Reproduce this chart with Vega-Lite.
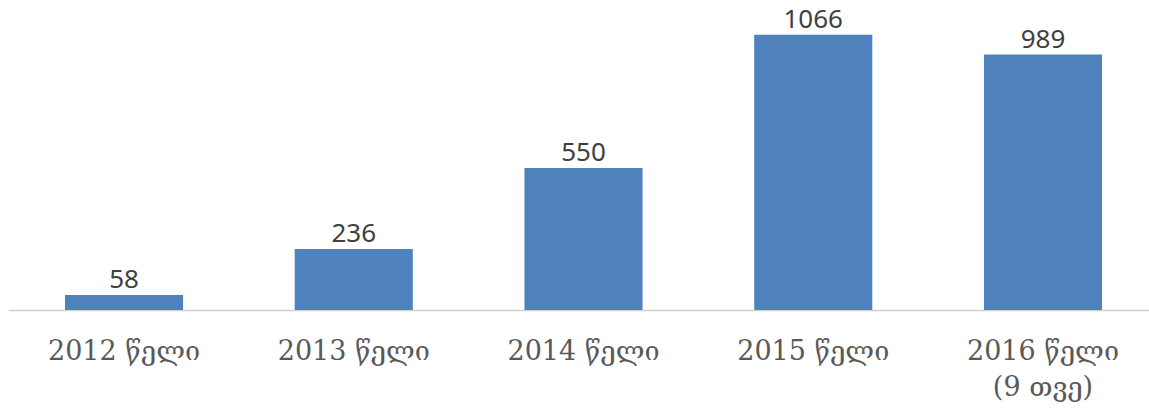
{
  "$schema": "https://vega.github.io/schema/vega-lite/v6.json",
  "autosize": "none",
  "width": 1151,
  "height": 304,
  "padding": {"left": 8, "top": 6, "right": 0, "bottom": 106},
  "background": "white",
  "config": {"view": {"stroke": null}},
  "data": {
    "values": [
      {"year": "2012 წელი", "value": 58},
      {"year": "2013 წელი", "value": 236},
      {"year": "2014 წელი", "value": 550},
      {"year": "2015 წელი", "value": 1066},
      {"year": "2016 წელი|(9 თვე)", "value": 989}
    ]
  },
  "encoding": {
    "x": {
      "field": "year",
      "type": "nominal",
      "sort": null,
      "scale": {"paddingInner": 0.486, "paddingOuter": 0.248},
      "axis": {
        "title": null,
        "labelAngle": 0,
        "ticks": false,
        "domainColor": "#d0d0d0",
        "domainWidth": 1.5,
        "labelFont": "DejaVu Serif",
        "labelFontSize": 27,
        "labelColor": "#595959",
        "labelPadding": 28,
        "labelLineHeight": 36,
        "labelBaseline": "top",
        "labelExpr": "split(datum.label, '|')"
      }
    },
    "y": {
      "field": "value",
      "type": "quantitative",
      "scale": {"domain": [0, 1177]},
      "axis": null
    }
  },
  "layer": [
    {"mark": {"type": "bar", "color": "#4f81bd"}},
    {
      "mark": {
        "type": "text",
        "baseline": "alphabetic",
        "dy": -7,
        "font": "Noto Sans",
        "fontSize": 26,
        "color": "#404040"
      },
      "encoding": {"text": {"field": "value", "type": "quantitative"}}
    }
  ]
}
